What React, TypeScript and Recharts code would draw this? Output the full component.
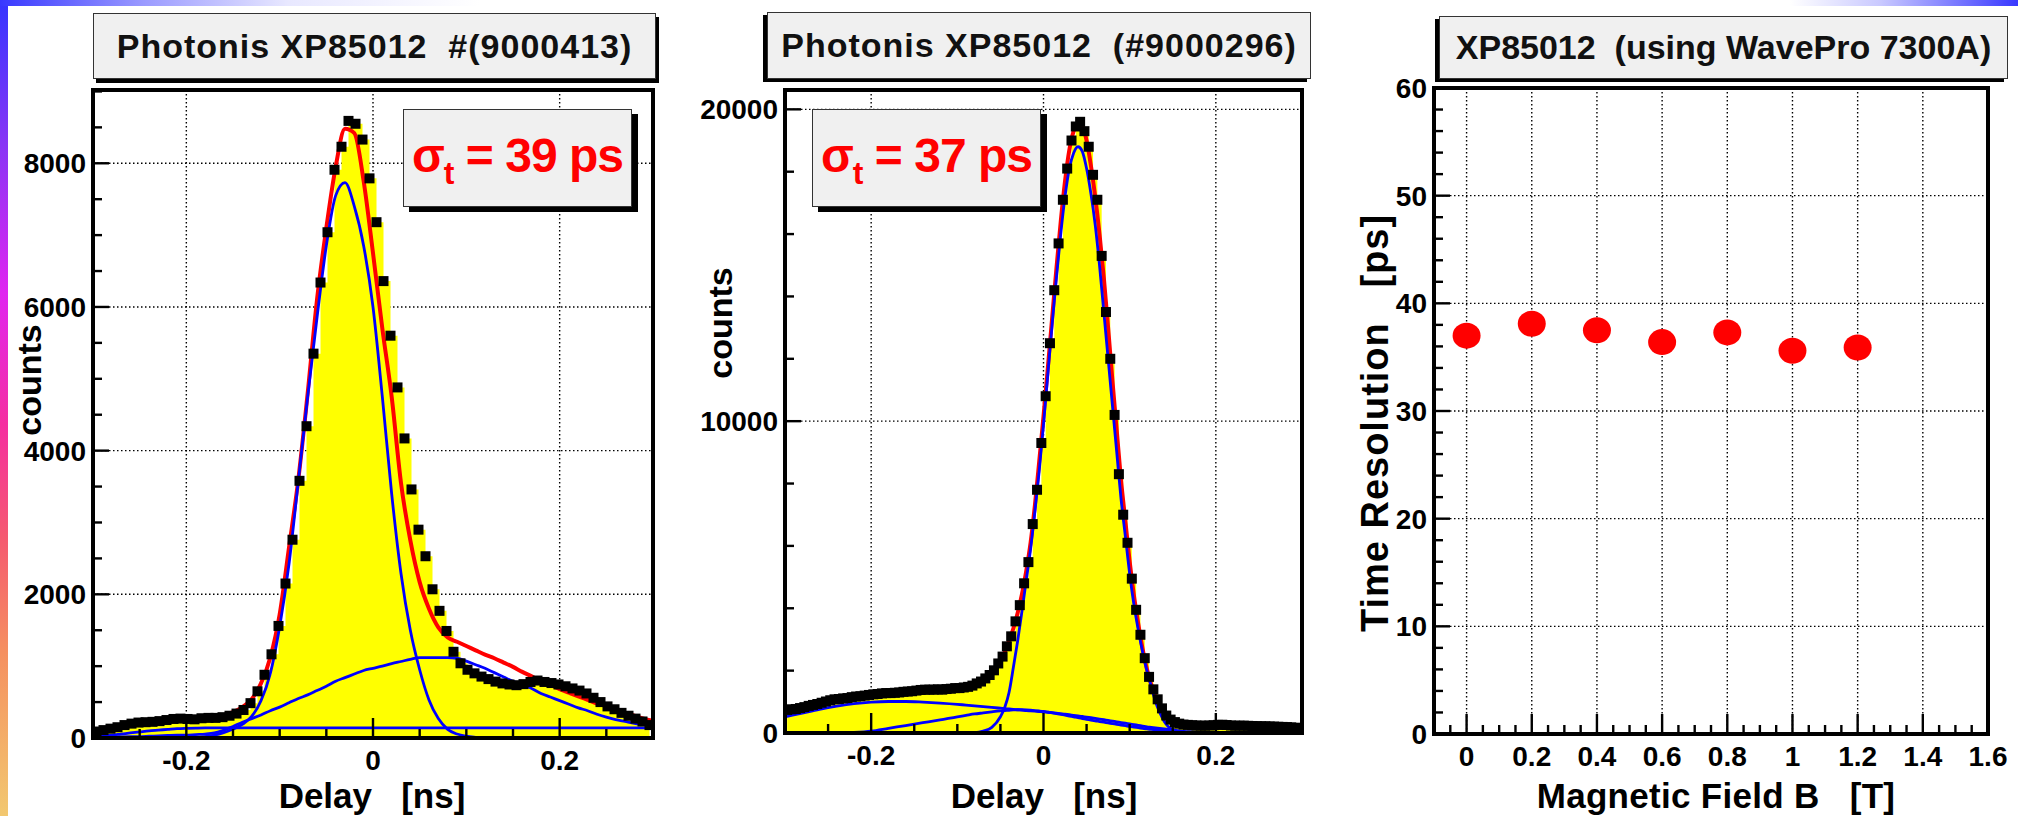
import React from 'react';
import { ComposedChart, Area, Line, Scatter, XAxis, YAxis, CartesianGrid } from 'recharts';

const FONT = '"Liberation Sans", Arial, Helvetica, sans-serif';
const H = 816;

// ---- left panel: XP85012 #9000413 ----
const p1BinStart = -0.3;
const p1BinWidth = 0.0075;
const p1Counts = [
  90, 110, 130, 150, 180, 200, 215, 220, 225, 235,
  250, 265, 270, 265, 260, 275, 280, 280, 290, 310,
  340, 390, 485, 650, 880, 1165, 1560, 2150, 2760, 3580,
  4340, 5350, 6340, 7040, 7910, 8230, 8590, 8550, 8330, 7790,
  7180, 6360, 5600, 4880, 4170, 3460, 2900, 2530, 2070, 1770,
  1490, 1200, 1040, 950, 900, 855, 820, 785, 760, 745,
  735, 750, 780, 800, 780, 765, 745, 720, 690, 660,
  620, 560, 500, 440, 400, 350, 310, 270, 230, 180,
];
// fit curves, sampled every 0.01 ns from -0.3 to 0.3
const p1FitStart = -0.3;
const p1FitStep = 0.01;
const p1Total = [
  110, 125, 140, 155, 170, 185, 200, 215, 230, 240,
  250, 260, 270, 290, 320, 360, 430, 540, 760, 1120,
  1720, 2650, 3600, 4800, 6100, 7100, 7950, 8480, 8420, 7750,
  6750, 5700, 4750, 3550, 2750, 2170, 1800, 1540, 1400, 1340,
  1280, 1220, 1160, 1110, 1050, 990, 920, 860, 790, 740,
  680, 630, 580, 530, 480, 440, 390, 350, 310, 270,
  240,
];
const p1Main = [
  0, 0, 0, 0, 0, 0, 0, 0, 0, 0,
  0, 0, 20, 40, 75, 125, 190, 300, 520, 900,
  1550, 2420, 3580, 4750, 5850, 6850, 7550, 7730, 7400, 6850,
  6000, 4750, 3400, 2290, 1500, 950, 530, 270, 120, 55,
  25, 10, 0, 0, 0, 0, 0, 0, 0, 0,
  0, 0, 0, 0, 0, 0, 0, 0, 0, 0,
  0,
];
const p1Broad = [
  10, 12, 14, 16, 18, 20, 25, 30, 35, 40,
  40, 48, 55, 70, 110, 160, 220, 270, 320, 380,
  430, 490, 550, 600, 660, 720, 790, 840, 890, 940,
  970, 1000, 1035, 1065, 1095, 1120, 1120, 1120, 1120, 1110,
  1070, 1020, 970, 910, 850, 790, 740, 690, 620, 570,
  520, 470, 420, 380, 330, 290, 255, 230, 205, 185,
  165,
];
const p1Flat = [
  20, 30, 40, 55, 70, 85, 100, 110, 120, 130,
  135, 138, 140, 140, 140, 140, 140, 140, 140, 140,
  140, 140, 140, 140, 140, 140, 140, 140, 140, 140,
  140, 140, 140, 140, 140, 140, 140, 140, 140, 140,
  140, 140, 140, 140, 140, 140, 140, 140, 140, 140,
  140, 140, 140, 140, 140, 140, 140, 140, 140, 140,
  140,
];

// ---- middle panel: XP85012 #9000296 ----
const p2BinStart = -0.3;
const p2BinWidth = 0.005;
const p2Counts = [
  740, 760, 770, 800, 830, 870, 900, 930, 970, 1010,
  1050, 1080, 1090, 1110, 1120, 1150, 1170, 1180, 1200, 1220,
  1240, 1250, 1270, 1280, 1280, 1290, 1300, 1320, 1330, 1340,
  1360, 1380, 1390, 1390, 1390, 1400, 1390, 1410, 1420, 1440,
  1440, 1460, 1480, 1520, 1590, 1650, 1750, 1860, 2010, 2230,
  2450, 2780, 3100, 3580, 4100, 4800, 5480, 6700, 7800, 9300,
  10800, 12500, 14200, 15700, 17100, 18100, 19000, 19450, 19600, 19300,
  18800, 17900, 17100, 15300, 13500, 12000, 10200, 8300, 7000, 6100,
  4950, 3950, 3150, 2400, 1800, 1400, 1080, 790, 560, 430,
  350, 300, 270, 260, 250, 240, 235, 235, 240, 250,
  260, 265, 255, 240, 235, 235, 235, 230, 225, 220,
  215, 215, 210, 205, 200, 195, 190, 180, 170, 160,
];
const p2FitX = [
  -0.3, -0.28, -0.26, -0.24, -0.22, -0.2, -0.18, -0.16, -0.14, -0.12, -0.1,
  -0.09, -0.08, -0.07, -0.06, -0.05,
  -0.045, -0.04, -0.035, -0.03, -0.025, -0.02, -0.015, -0.01, -0.005,
  0, 0.005, 0.01, 0.015, 0.02, 0.025, 0.03, 0.035, 0.04, 0.045,
  0.05, 0.055, 0.06, 0.065, 0.07, 0.075, 0.08, 0.085, 0.09, 0.095,
  0.1, 0.105, 0.11, 0.115, 0.12, 0.125, 0.13, 0.135, 0.14, 0.145, 0.15,
  0.16, 0.17, 0.18,
  0.2, 0.22, 0.24, 0.26, 0.28, 0.3,
];
const p2Total = [
  760, 800, 930, 1080, 1150, 1220, 1280, 1320, 1380, 1400, 1440,
  1460, 1520, 1660, 1900, 2300,
  2600, 2950, 3350, 3850, 4450, 5200, 6100, 7300, 8700,
  10150, 11700, 13300, 14900, 16400, 17700, 18700, 19300, 19550, 19450,
  19000, 18200, 17200, 16000, 14600, 13000, 11300, 9700, 8100, 6800,
  5500, 4400, 3500, 2700, 2050, 1550, 1150, 850, 620, 480, 400,
  300, 260, 240,
  230, 225, 220, 210, 195, 180,
];
const p2Main = [
  0, 0, 0, 0, 0, 0, 0, 0, 0, 0, 0,
  0, 10, 60, 180, 520,
  820, 1300, 2100, 2950, 3900, 4900, 5900, 7100, 8400,
  9900, 11500, 13100, 14600, 16000, 17200, 18100, 18600, 18800, 18650,
  18100, 17300, 16300, 15000, 13500, 12000, 10500, 9000, 7500, 6300,
  5100, 4100, 3300, 2600, 2000, 1500, 1000, 650, 380, 200, 110,
  40, 10, 0,
  0, 0, 0, 0, 0, 0,
];
const p2Broad1 = [
  520, 640, 760, 860, 940, 990, 1010, 1010, 990, 960, 920,
  895, 870, 845, 820, 795,
  783, 770, 758, 745, 733, 720, 710, 700, 690,
  680, 665, 650, 635, 620, 603, 585, 568, 550, 530,
  510, 490, 470, 448, 425, 403, 380, 358, 335, 313,
  290, 268, 245, 223, 200, 183, 165, 148, 130, 113, 95,
  60, 40, 20,
  0, 0, 0, 0, 0, 0,
];
const p2Broad2 = [
  0, 0, 0, 5, 20, 60, 150, 240, 330, 420, 520,
  565, 610, 645, 680, 710,
  720, 730, 740, 745, 745, 740, 730, 718, 705,
  690, 670, 648, 625, 600, 573, 545, 518, 490, 465,
  440, 415, 390, 368, 345, 323, 300, 278, 255, 233,
  210, 190, 170, 150, 130, 115, 100, 85, 70, 58, 48,
  30, 18, 10,
  0, 0, 0, 0, 0, 0,
];

// ---- right panel: resolution vs magnetic field ----
const p3Field = [0, 0.2, 0.4, 0.6, 0.8, 1.0, 1.2];
const p3Sigma = [37.0, 38.1, 37.5, 36.4, 37.3, 35.6, 35.9];

// axis ticks
const p1XMajor = [-0.2, 0, 0.2];
const p1YMajor = [0, 2000, 4000, 6000, 8000];
const p2XMajor = [-0.2, 0, 0.2];
const p2YMajor = [0, 10000, 20000];
const p3XMajor = [0, 0.2, 0.4, 0.6, 0.8, 1, 1.2, 1.4, 1.6];
const p3YMajor = [0, 10, 20, 30, 40, 50, 60];

const range = (a: number, b: number, step: number) => {
  const out: number[] = [];
  for (let i = 0; a + i * step <= b + step * 1e-6; i++) out.push(Math.round((a + i * step) * 1e6) / 1e6);
  return out;
};

const histPoints = (start: number, width: number, counts: number[]) =>
  counts.map((y, i) => ({ x: start + (i + 0.5) * width, y }));
const gridPoints = (start: number, step: number, ys: number[]) =>
  ys.map((y, i) => ({ x: Math.round((start + i * step) * 1e6) / 1e6, y }));
const pairs = (xs: number[], ys: number[]) => xs.map((x, i) => ({ x, y: ys[i] }));

const isMajor = (v: number, majors: number[]) => majors.some((m) => Math.abs(m - v) < 1e-6);
const fmt = (v: number) => String(Math.round(v * 100) / 100);

const makeXTick = (majors: number[]) => (p: any) => {
  const v = p.payload.value;
  const major = isMajor(v, majors);
  return (
    <g>
      <line x1={p.x} x2={p.x} y1={p.y} y2={p.y - (major ? 20 : 9)} stroke="#000" strokeWidth={2.4} />
      {major && (
        <text x={p.x} y={p.y + 32} textAnchor="middle" fontFamily={FONT} fontWeight="bold" fontSize={28} fill="#000">
          {fmt(v)}
        </text>
      )}
    </g>
  );
};

const makeYTick = (majors: number[]) => (p: any) => {
  const v = p.payload.value;
  const major = isMajor(v, majors);
  return (
    <g>
      <line x1={p.x} x2={p.x + (major ? 16 : 9)} y1={p.y} y2={p.y} stroke="#000" strokeWidth={2.4} />
      {major && (
        <text x={p.x - 7} y={p.y + 10} textAnchor="end" fontFamily={FONT} fontWeight="bold" fontSize={28} fill="#000">
          {fmt(v)}
        </text>
      )}
    </g>
  );
};

type Box = { left: number; right: number; top: number; bottom: number };

interface PanelProps {
  chartLeft: number;
  chartWidth: number;
  plot: Box;
  xDomain: [number, number];
  yDomain: [number, number];
  xTicks: number[];
  xMajor: number[];
  yTicks: number[];
  yMajor: number[];
  gridX: number[];
  gridY: number[];
  children: React.ReactNode;
}

const Panel = (props: PanelProps) => {
  const { chartLeft, chartWidth, plot } = props;
  return (
    <div style={{ position: 'absolute', left: chartLeft, top: 0 }}>
      <ComposedChart
        width={chartWidth}
        height={H}
        margin={{ top: plot.top, right: chartLeft + chartWidth - plot.right, bottom: 0, left: 0 }}
      >
        <CartesianGrid
          verticalValues={props.gridX}
          horizontalValues={props.gridY}
          stroke="#000"
          strokeWidth={1.4}
          strokeDasharray="1.5 2.5"
        />
        {props.children}
        <XAxis
          type="number"
          dataKey="x"
          domain={props.xDomain}
          ticks={props.xTicks}
          interval={0}
          allowDataOverflow
          height={H - plot.bottom}
          axisLine={false}
          tickLine={false}
          tickSize={0}
          tickMargin={0}
          tick={makeXTick(props.xMajor)}
        />
        <YAxis
          type="number"
          dataKey="y"
          domain={props.yDomain}
          ticks={props.yTicks}
          interval={0}
          allowDataOverflow
          width={plot.left - chartLeft}
          axisLine={false}
          tickLine={false}
          tickSize={0}
          tickMargin={0}
          tick={makeYTick(props.yMajor)}
        />
      </ComposedChart>
    </div>
  );
};

const Frame = ({ plot }: { plot: Box }) => (
  <div
    style={{
      position: 'absolute',
      left: plot.left - 2,
      top: plot.top - 2,
      width: plot.right - plot.left + 4,
      height: plot.bottom - plot.top + 4,
      border: '4px solid #000',
      boxSizing: 'border-box',
      pointerEvents: 'none',
    }}
  />
);

const TitleBox = ({ text, left, top, width, height, shadow, spacing = 1 }: any) => (
  <div
    style={{
      position: 'absolute',
      left,
      top,
      width,
      height,
      boxSizing: 'border-box',
      background: '#f0f0f0',
      border: '1.5px solid #333',
      boxShadow: shadow,
      display: 'flex',
      alignItems: 'center',
      justifyContent: 'center',
      fontFamily: FONT,
      fontWeight: 'bold',
      fontSize: 34,
      letterSpacing: spacing,
      whiteSpace: 'pre',
      color: '#111',
    }}
  >
    {text}
  </div>
);

const SigmaBox = ({ value, left, top }: { value: string; left: number; top: number }) => (
  <div
    style={{
      position: 'absolute',
      left,
      top,
      width: 229,
      height: 98,
      boxSizing: 'border-box',
      background: '#f0f0f0',
      border: '1.5px solid #333',
      boxShadow: '6px 5px 0 #000',
      display: 'flex',
      alignItems: 'center',
      justifyContent: 'center',
      fontFamily: FONT,
      fontWeight: 'bold',
      fontSize: 48,
      letterSpacing: -1,
      color: '#ff0000',
      whiteSpace: 'pre',
    }}
  >
    <span style={{ marginTop: -6 }}>
      σ<span style={{ fontSize: 32, position: 'relative', top: 12 }}>t</span> = {value}
    </span>
  </div>
);

const AxisTitle = ({ text, cx, cy, size, rotate, spacing = 0 }: any) => (
  <div
    style={{
      position: 'absolute',
      left: cx,
      top: cy,
      transform: `translate(-50%, -50%)${rotate ? ' rotate(-90deg)' : ''}`,
      fontFamily: FONT,
      fontWeight: 'bold',
      fontSize: size,
      letterSpacing: spacing,
      lineHeight: 1,
      whiteSpace: 'pre',
      color: '#000',
    }}
  >
    {text}
  </div>
);

const plot1: Box = { left: 93, right: 653, top: 90, bottom: 738 };
const plot2: Box = { left: 785, right: 1302, top: 90, bottom: 733 };
const plot3: Box = { left: 1434, right: 1988, top: 88, bottom: 734 };

export default function App() {
  const h1 = histPoints(p1BinStart, p1BinWidth, p1Counts);
  const h2 = histPoints(p2BinStart, p2BinWidth, p2Counts);
  const f1 = (ys: number[]) => gridPoints(p1FitStart, p1FitStep, ys);
  const f2 = (ys: number[]) => pairs(p2FitX, ys);
  const pts3 = pairs(p3Field, p3Sigma);

  const square = (p: any) => <rect x={p.cx - 5} y={p.cy - 5} width={10} height={10} fill="#000" />;
  const dot = (p: any) => <ellipse cx={p.cx} cy={p.cy} rx={14} ry={13} fill="#ff0000" />;

  const innerX = (lo: number, hi: number, step: number) => range(lo, hi, step).filter((v) => v > lo + 1e-6 && v < hi - 1e-6);

  const RED = 4;
  const BLUE = 2.8;

  return (
    <div style={{ position: 'absolute', left: 0, top: 0, width: 2018, height: H, background: '#fff', overflow: 'hidden' }}>
      <Panel
        chartLeft={0}
        chartWidth={700}
        plot={plot1}
        xDomain={[-0.3, 0.3]}
        yDomain={[0, 9020]}
        xTicks={innerX(-0.3, 0.3, 0.05)}
        xMajor={p1XMajor}
        yTicks={range(0, 9000, 500)}
        yMajor={p1YMajor}
        gridX={p1XMajor}
        gridY={[2000, 4000, 6000, 8000]}
      >
        <Area data={h1} dataKey="y" type="stepAfter" fill="#ffff00" fillOpacity={1} stroke="none" isAnimationActive={false} dot={false} activeDot={false} />
        <Line data={f1(p1Total)} dataKey="y" type="monotone" stroke="#ff0000" strokeWidth={RED} dot={false} activeDot={false} isAnimationActive={false} />
        <Scatter data={h1} dataKey="y" shape={square} isAnimationActive={false} />
        <Line data={f1(p1Main)} dataKey="y" type="monotone" stroke="#0000ff" strokeWidth={BLUE} dot={false} activeDot={false} isAnimationActive={false} />
        <Line data={f1(p1Broad)} dataKey="y" type="monotone" stroke="#0000ff" strokeWidth={BLUE} dot={false} activeDot={false} isAnimationActive={false} />
        <Line data={f1(p1Flat)} dataKey="y" type="monotone" stroke="#0000ff" strokeWidth={BLUE} dot={false} activeDot={false} isAnimationActive={false} />
      </Panel>

      <Panel
        chartLeft={700}
        chartWidth={620}
        plot={plot2}
        xDomain={[-0.3, 0.3]}
        yDomain={[0, 20620]}
        xTicks={innerX(-0.3, 0.3, 0.05)}
        xMajor={p2XMajor}
        yTicks={range(0, 20000, 2000)}
        yMajor={p2YMajor}
        gridX={p2XMajor}
        gridY={[10000, 20000]}
      >
        <Area data={h2} dataKey="y" type="stepAfter" fill="#ffff00" fillOpacity={1} stroke="none" isAnimationActive={false} dot={false} activeDot={false} />
        <Line data={f2(p2Total)} dataKey="y" type="monotone" stroke="#ff0000" strokeWidth={RED} dot={false} activeDot={false} isAnimationActive={false} />
        <Scatter data={h2} dataKey="y" shape={square} isAnimationActive={false} />
        <Line data={f2(p2Main)} dataKey="y" type="monotone" stroke="#0000ff" strokeWidth={BLUE} dot={false} activeDot={false} isAnimationActive={false} />
        <Line data={f2(p2Broad1)} dataKey="y" type="monotone" stroke="#0000ff" strokeWidth={BLUE} dot={false} activeDot={false} isAnimationActive={false} />
        <Line data={f2(p2Broad2)} dataKey="y" type="monotone" stroke="#0000ff" strokeWidth={BLUE} dot={false} activeDot={false} isAnimationActive={false} />
      </Panel>

      <Panel
        chartLeft={1330}
        chartWidth={688}
        plot={plot3}
        xDomain={[-0.1, 1.6]}
        yDomain={[0, 60]}
        xTicks={range(-0.05, 1.6, 0.05)}
        xMajor={p3XMajor}
        yTicks={range(0, 60, 2)}
        yMajor={p3YMajor}
        gridX={[0, 0.2, 0.4, 0.6, 0.8, 1, 1.2, 1.4]}
        gridY={[10, 20, 30, 40, 50]}
      >
        <Scatter data={pts3} dataKey="y" shape={dot} isAnimationActive={false} />
      </Panel>

      <Frame plot={plot1} />
      <Frame plot={plot2} />
      <Frame plot={plot3} />

      <TitleBox text="Photonis XP85012  #(9000413)" left={93} top={13} width={563} height={66} shadow="3px 4px 0 #000" />
      <TitleBox text="Photonis XP85012  (#9000296)" left={767} top={12} width={544} height={67} shadow="-4px 3px 0 #000" />
      <TitleBox text="XP85012  (using WavePro 7300A)" left={1439} top={16} width={569} height={63} shadow="-4px 3px 0 #000" spacing={0} />

      <SigmaBox value="39 ps" left={403} top={109} />
      <SigmaBox value="37 ps" left={812} top={109} />

      <AxisTitle text="Delay   [ns]" cx={372} cy={795} size={35} />
      <AxisTitle text="Delay   [ns]" cx={1044} cy={795} size={35} />
      <AxisTitle text="Magnetic Field B   [T]" cx={1716} cy={795} size={35} spacing={0.3} />
      <AxisTitle text="counts" cx={29} cy={380} size={34} rotate />
      <AxisTitle text="counts" cx={720} cy={323} size={34} rotate />
      <AxisTitle text="Time Resolution   [ps]" cx={1375} cy={423} size={38} spacing={1} rotate />

      {/* slide decoration */}
      <div
        style={{
          position: 'absolute', left: 0, top: 0, width: 8, height: H,
          background: 'linear-gradient(to bottom, #3535ff 0%, #8a35f5 18%, #e025f0 36%, #f52ea0 52%, #f55a70 66%, #f59060 80%, #f2c870 100%)',
        }}
      />
      <div
        style={{
          position: 'absolute', left: 0, top: 0, width: 480, height: 6,
          background: 'linear-gradient(to right, #3838ff 0%, #9a9aff 30%, #e8e8ff 60%, #ffffff 100%)',
        }}
      />
      <div
        style={{
          position: 'absolute', left: 1790, top: 0, width: 228, height: 6,
          background: 'linear-gradient(to right, #ffffff 0%, #c8c8ff 40%, #3838ff 100%)',
        }}
      />
    </div>
  );
}
